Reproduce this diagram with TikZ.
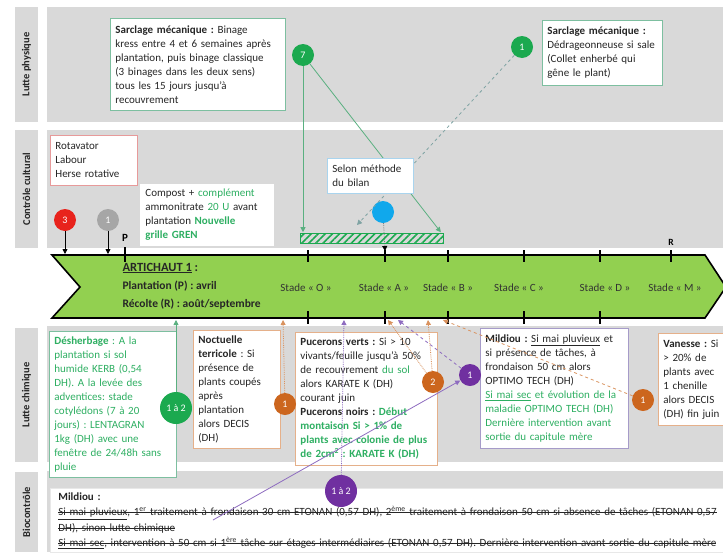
\documentclass[tikz,border=0pt]{standalone}
\usepackage{fontspec}
\setmainfont{Carlito}
\usetikzlibrary{arrows.meta,patterns.meta}
\frenchspacing

\definecolor{fondgris}{HTML}{D9D9D9}
\definecolor{vertfleche}{HTML}{92D050}
\definecolor{pastvert}{HTML}{1BA94F}
\definecolor{txtvert}{HTML}{2EAF62}
\definecolor{traitvert}{HTML}{5AB080}
\definecolor{cadrevert}{HTML}{7DBFA0}
\definecolor{pastviolet}{HTML}{7030A0}
\definecolor{traitviolet}{HTML}{8E6CC0}
\definecolor{cadreviolet}{HTML}{A69BC9}
\definecolor{pastorange}{HTML}{CC661E}
\definecolor{traitorange}{HTML}{D9925E}
\definecolor{cadreorange}{HTML}{E5B08A}
\definecolor{pastrouge}{HTML}{E8231C}
\definecolor{cadrerouge}{HTML}{E79A9A}
\definecolor{pastgris}{HTML}{A6A6A6}
\definecolor{pastbleu}{HTML}{10A8EC}
\definecolor{cadrebleu}{HTML}{A9D4EE}
\definecolor{tiretsgris}{HTML}{7FA3A3}

% texte barre
\newsavebox\boitebarre
\newcommand\barre[1]{\sbox\boitebarre{#1}\mbox{\rlap{\usebox\boitebarre}\rule[0.24em]{\wd\boitebarre}{0.5pt}}}

\tikzset{
  bande/.style={fill=fondgris},
  titrebande/.style={fill=fondgris, rotate=90, inner sep=0pt, minimum height=23pt,
    font=\bfseries\fontsize{10.5}{12}\selectfont, text=black!85},
  cadre/.style={draw=#1, fill=white, line width=0.8pt, anchor=north west, align=left,
    inner xsep=5pt, inner ysep=3pt, font=\fontsize{11}{14}\selectfont, text=black!85},
  pastille/.style={circle, fill=#1, text=white, minimum size=22pt, inner sep=0pt,
    font=\fontsize{10}{11}\selectfont},
  stade/.style={font=\fontsize{11}{12}\selectfont, text=black!80},
  repere/.style={line width=1.3pt},
  fleche/.style={-{Triangle[length=5pt,width=5pt]}, line width=0.8pt},
}

\begin{document}
\begin{tikzpicture}[x=1pt, y=-1pt]
  \useasboundingbox (0,0) rectangle (723,552);

  % bandes
  \fill[bande] (47,7) rectangle (723,122);
  \fill[bande] (47,130) rectangle (723,248);
  \fill[bande] (47,326) rectangle (723,462);
  \fill[bande] (47,471) rectangle (723,552);
  \node[titrebande, minimum width=115pt] (physique) at (26.5,64.5) {Lutte physique};
  \node[titrebande, minimum width=118pt] (cultural) at (26.5,189) {Contrôle cultural};
  \node[titrebande, minimum width=134pt] (chimique) at (26.5,395) {Lutte chimique};
  \node[titrebande, minimum width=80pt] (biocontrole) at (26.5,512) {Biocontrôle};

  % fleche du calendrier
  \draw[fill=vertfleche, line width=1.6pt] (52,255) -- (705,255) -- (726,287) -- (705,318)
    -- (52,318) -- (80,287) -- cycle;
  \draw[repere] (125,247) -- (125,262);
  \draw[repere] (308,250) -- (308,262);
  \draw[repere] (385,250) -- (385,262);
  \draw[repere] (448,250) -- (448,262);
  \draw[repere] (524,250) -- (524,262);
  \draw[repere] (600,250) -- (600,262);
  \draw[repere] (671,250) -- (671,262);
  \draw[repere] (308,311) -- (308,324);
  \draw[repere] (385,311) -- (385,324);
  \draw[repere] (448,311) -- (448,324);
  \draw[repere] (524,311) -- (524,324);
  \draw[repere] (600,311) -- (600,324);
  \node[font=\bfseries\fontsize{11}{12}\selectfont] (P) at (125,238) {P};
  \node[font=\bfseries\fontsize{9.5}{11}\selectfont] (R) at (671,242) {R};

  \node[anchor=west, font=\bfseries\fontsize{12.5}{14}\selectfont, text=black!85] (artichaut) at (119,268) {\underline{ARTICHAUT 1} :};
  \node[anchor=west, font=\bfseries\fontsize{11.5}{13}\selectfont, text=black!85] (plantation) at (119,286) {Plantation (P) : avril};
  \node[anchor=west, font=\bfseries\fontsize{11.5}{13}\selectfont, text=black!85] (recolte) at (119,304) {Récolte (R) : août/septembre};
  \node[stade] (O) at (306,288) {Stade « O »};
  \node[stade] (A) at (384,288) {Stade « A »};
  \node[stade] (B) at (448,288) {Stade « B »};
  \node[stade] (C) at (519,288) {Stade « C »};
  \node[stade] (D) at (605,288) {Stade « D »};
  \node[stade] (M) at (675,288) {Stade « M »};

  % cadres
  \node[cadre=cadrevert, text width=165pt, minimum height=92pt] (sarclage) at (110,18)
    {\textbf{Sarclage mécanique :} Binage\\kress entre 4 et 6 semaines après\\plantation, puis binage classique\\(3 binages dans les deux sens)\\tous les 15 jours jusqu'à\\recouvrement};
  \node[cadre=cadrevert, text width=110pt, minimum height=65pt] (dedrageonneuse) at (542,20)
    {\textbf{Sarclage mécanique :}\\Dédrageonneuse si sale\\(Collet enherbé qui\\gêne le plant)};
  \node[cadre=cadrerouge, text width=77pt, minimum height=50pt] (travail) at (50,135)
    {Rotavator\\Labour\\Herse rotative};
  \node[cadre=white, text width=123pt, minimum height=61pt] (compost) at (140,184)
    {Compost + \textcolor{txtvert}{complément}\\ammonitrate \textcolor{txtvert}{20 U} avant\\plantation \textcolor{txtvert}{\textbf{Nouvelle}}\\\textcolor{txtvert}{\textbf{grille GREN}}};
  \node[cadre=cadrevert, text width=117pt, minimum height=146pt, text=txtvert] (desherbage) at (49,331)
    {\textbf{Désherbage} : A la\\plantation si sol\\humide KERB (0,54\\DH). A la levée des\\adventices: stade\\cotylédons (7 à 20\\jours) : LENTAGRAN\\1kg (DH) avec une\\fenêtre de 24/48h sans\\pluie};
  \node[cadre=cadreorange, text width=77pt, minimum height=118pt] (noctuelle) at (193,330)
    {\textbf{Noctuelle}\\\textbf{terricole} : Si\\présence de\\plants coupés\\après\\plantation\\alors DECIS\\(DH)};
  \node[cadre=cadreorange, text width=132pt, minimum height=133pt] (pucerons) at (295,332)
    {\textbf{Pucerons verts :} Si > 10\\vivants/feuille jusqu'à 50\%\\de recouvrement \textcolor{txtvert}{du sol}\\alors KARATE K (DH)\\courant juin\\\textbf{Pucerons noirs :} \textcolor{txtvert}{\textbf{Début}}\\\textcolor{txtvert}{\textbf{montaison Si > 1\% de}}\\\textcolor{txtvert}{\textbf{plants avec colonie de plus}}\\\textcolor{txtvert}{\textbf{de 2cm\textsuperscript{2} : KARATE K (DH)}}};
  \node[cadre=cadreviolet, text width=138pt, minimum height=120pt] (mildiou) at (480,328)
    {\textbf{Mildiou :} \underline{Si mai pluvieux} et\\si présence de tâches, à\\frondaison 50 cm alors\\OPTIMO TECH (DH)\\\textcolor{txtvert}{\underline{Si mai sec} et évolution de la}\\\textcolor{txtvert}{maladie OPTIMO TECH (DH)}\\\textcolor{txtvert}{Dernière intervention avant}\\\textcolor{txtvert}{sortie du capitule mère}};
  \node[cadre=cadreorange, text width=70pt, minimum height=92pt] (vanesse) at (658,333)
    {\textbf{Vanesse :} Si\\> 20\% de\\plants avec\\1 chenille\\alors DECIS\\(DH) fin juin};
  \node[cadre=fondgris!60, text width=790pt, inner xsep=8pt, inner ysep=4pt,
    font=\fontsize{11}{15.5}\selectfont] (bio) at (50,488)
    {\textbf{Mildiou :}\\\barre{\underline{Si mai pluvieux}, 1\textsuperscript{er} traitement à frondaison 30 cm ETONAN (0,57 DH), 2\textsuperscript{ème} traitement à frondaison 50 cm si absence de tâches (ETONAN 0,57}\\\barre{DH), sinon lutte chimique}\\\barre{\underline{Si mai sec}, intervention à 50 cm si 1\textsuperscript{ère} tâche sur étages intermédiaires (ETONAN 0,57 DH). Dernière intervention avant sortie du capitule mère}};

  % pastilles
  \node[pastille=pastvert] (sept) at (303,55) {7};
  \node[pastille=pastvert] (unSarclage) at (522,47) {1};
  \node[pastille=pastbleu] (bleu) at (383,212) {};
  \node[pastille=pastrouge] (troisTravail) at (65,220) {3};
  \node[pastille=pastgris] (unGris) at (108,220) {1};
  \node[pastille=pastvert, minimum size=32pt] (unadeuxDesh) at (176,408) {1 à 2};
  \node[pastille=pastorange] (unNoctuelle) at (285,404) {1};
  \node[pastille=pastorange] (deuxPucerons) at (433,382) {2};
  \node[pastille=pastviolet] (unMildiou) at (470,375) {1};
  \node[pastille=pastorange] (unVanesse) at (643,400) {1};
  \node[pastille=pastviolet, minimum size=32pt] (unadeuxBio) at (341,491) {1 à 2};

  % points d'arrivee
  \coordinate (haut3) at (65,254);
  \coordinate (haut1) at (108,254);
  \coordinate (hautA) at (385,251);
  \coordinate (bas12) at (176,320);
  \coordinate (basN) at (283,320);
  \coordinate (basO) at (388,320);
  \coordinate (basPb) at (344,320);
  \coordinate (basPv) at (398,320);
  \coordinate (basB) at (428,320);
  \coordinate (basV) at (443,320);
  \coordinate (pointeBilan) at (357,225);
  \coordinate (departBio) at (213,520);

  % liaisons
  \draw[fleche] (troisTravail) -- (haut3);
  \draw[fleche] (unGris) -- (haut1);
  \draw[fleche, gray, densely dotted, -{Triangle[length=5pt,width=5pt,color=black]}] (bleu) -- (hautA);
  \node[draw=pastvert, line width=0.8pt, minimum width=143pt, minimum height=10pt, inner sep=0pt,
    fill=white, pattern={Lines[angle=45,distance=5pt,line width=1.6pt]}, pattern color=pastvert] (fenetre) at (371.5,238) {};
  \draw[fleche, traitvert] (sept) -- (sept |- fenetre.north);
  \draw[fleche, traitvert] (sept) -- ([xshift=-3pt]fenetre.north east);
  \draw[fleche, tiretsgris, dashed] (unSarclage) -- (pointeBilan);
  \draw[fleche, traitvert] (unadeuxDesh) -- (bas12);
  \draw[fleche, traitorange, densely dotted] (unNoctuelle) -- (basN);
  \draw[fleche, traitorange, densely dotted] (deuxPucerons) -- (basO);
  \draw[fleche, traitorange, densely dotted] (deuxPucerons) -- (basB);
  \draw[fleche, traitorange, dashed] (unVanesse) -- (basV);
  \draw[fleche, traitviolet, dashed] (unMildiou) -- (basPv);
  \draw[fleche, traitviolet, densely dotted] (unadeuxBio) -- (basPb);
  \draw[fleche, traitviolet] (departBio) -- (unMildiou);

  \node[cadre=cadrebleu, text width=76pt, minimum height=35pt] (bilan) at (327,158)
    {Selon méthode\\du bilan};
\end{tikzpicture}
\end{document}
